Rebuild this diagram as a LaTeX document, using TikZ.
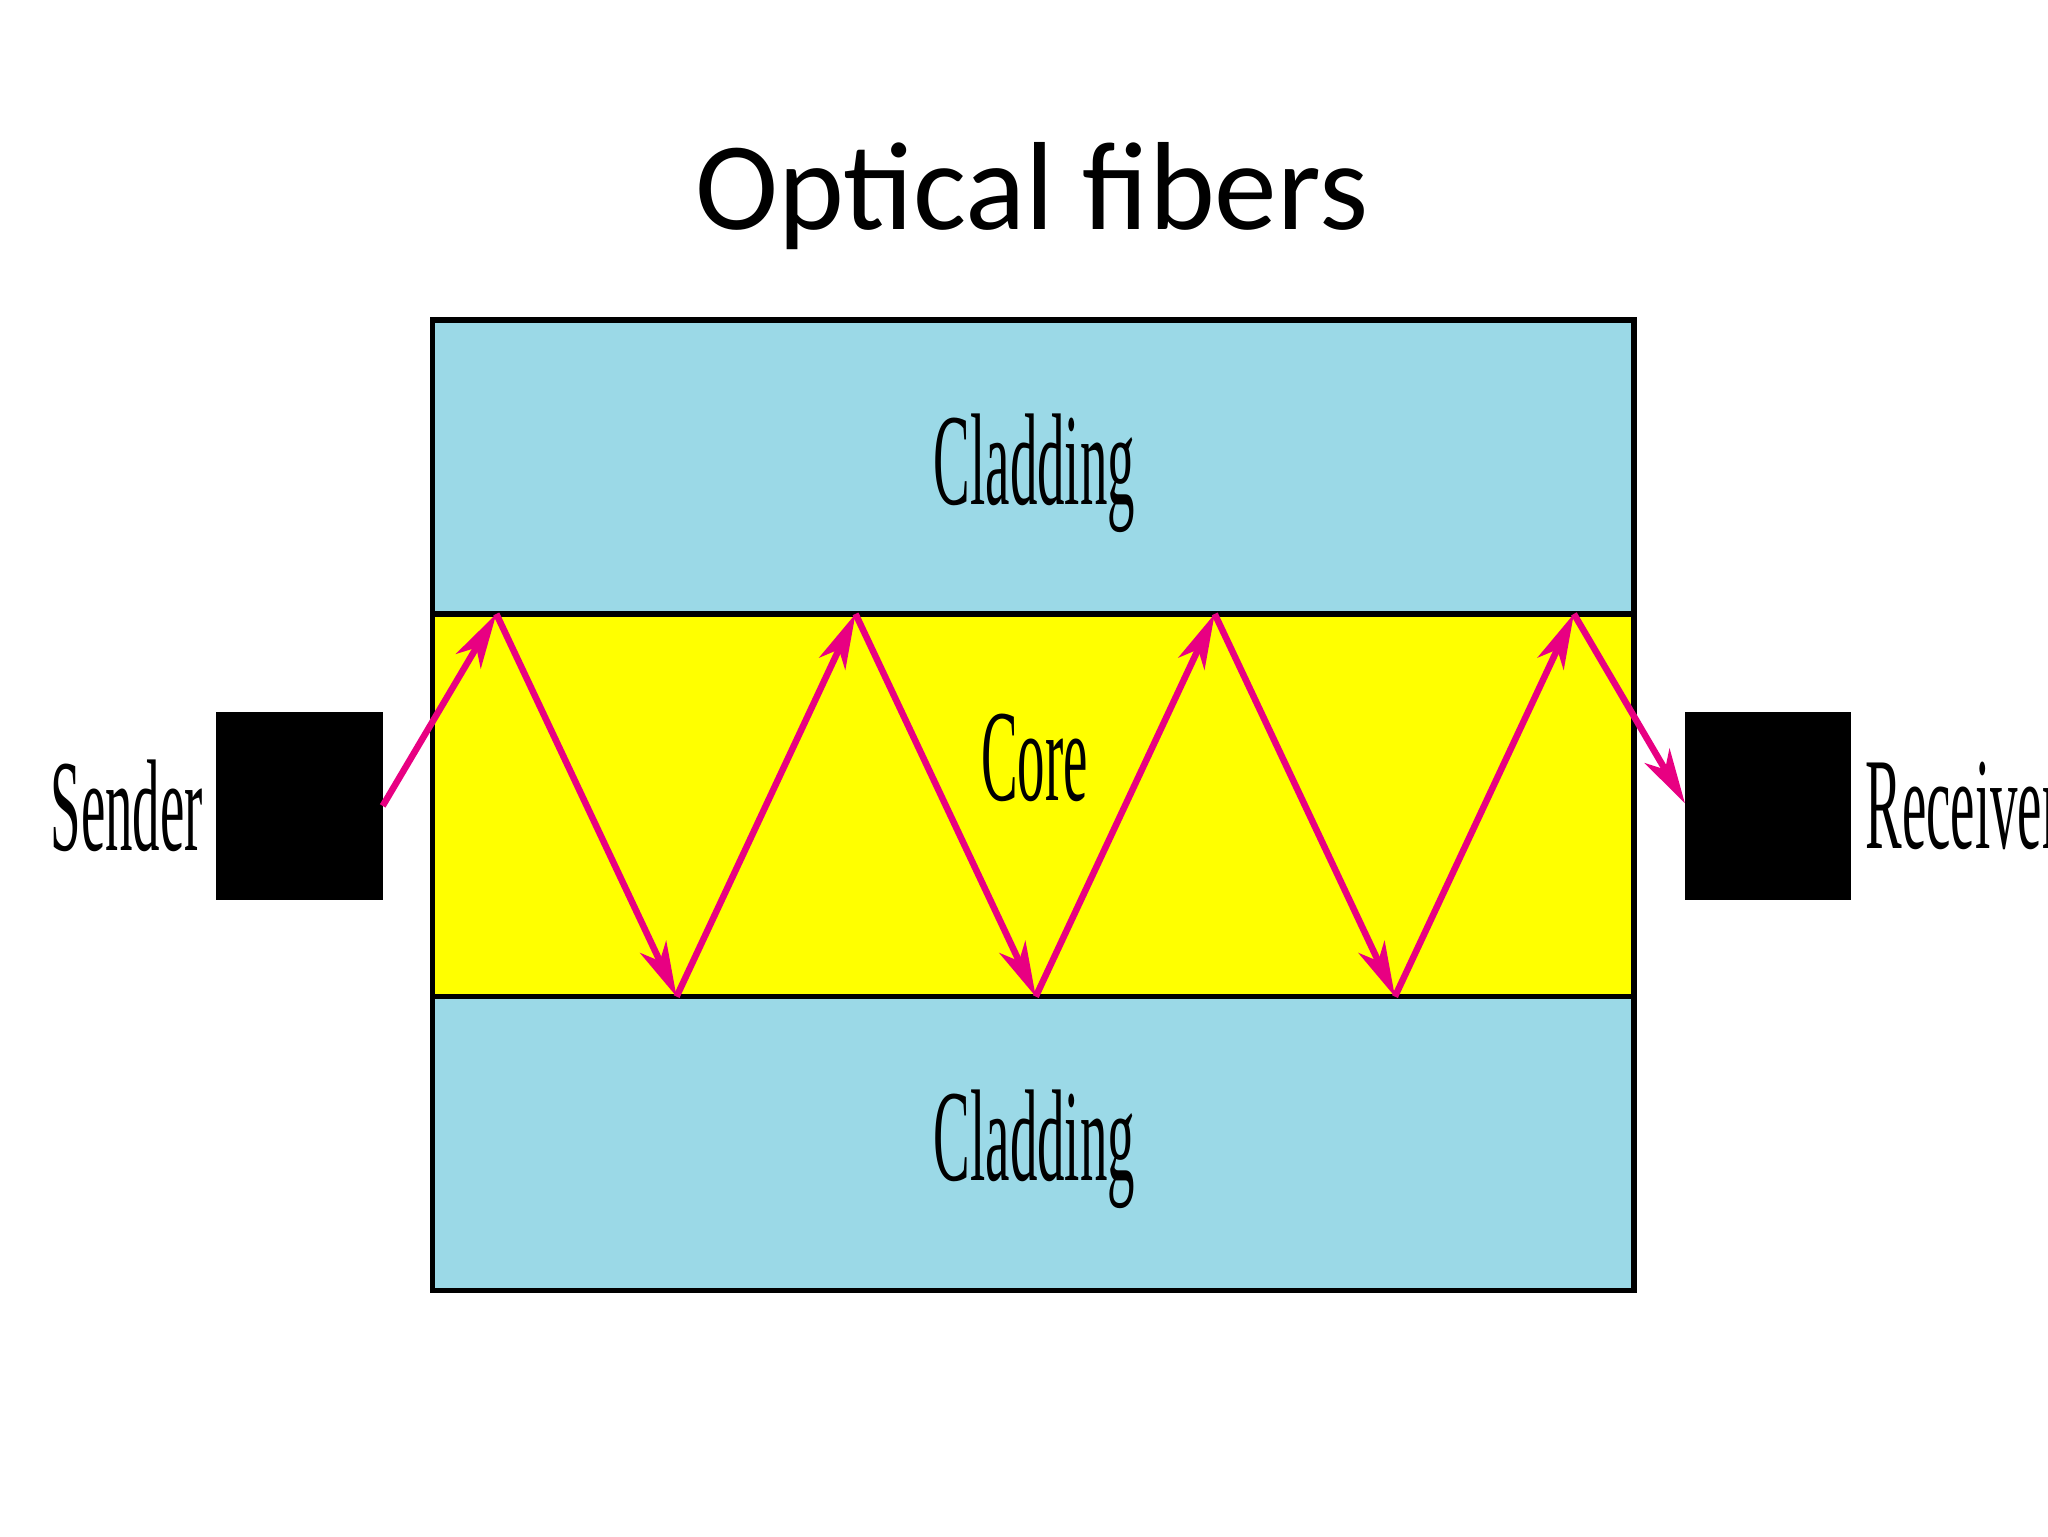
\documentclass[tikz,border=0pt]{standalone}
\usepackage{fontspec}
\setmainfont{Liberation Serif}
\newfontfamily\titlefont{Carlito}
\usetikzlibrary{arrows.meta}
\definecolor{clad}{RGB}{155,217,231}
\definecolor{corey}{RGB}{255,255,0}
\definecolor{ray}{RGB}{232,0,130}
\begin{document}
\begin{tikzpicture}[x=1pt,y=-1pt,
  layer/.style={draw=black,line width=4pt},
  lbl/.style={inner sep=0pt,font=\fontsize{100}{110}\selectfont},
  raystyle/.style={draw=ray,line width=5pt,-{Stealth[length=42pt,width=22pt,inset=12pt]}},
  dev/.style={fill=black,draw=none}]
\useasboundingbox (0,0) rectangle (1568,1176);
\node[inner sep=0pt,font=\titlefont\fontsize{96}{100}\selectfont] (title) at (790,150) {Optical fibers};
\fill[clad] (331,245) rectangle (1251,470);
\fill[corey] (331,470) rectangle (1251,763);
\fill[clad] (331,763) rectangle (1251,988);
\draw[layer] (331,988) -- (331,245) -- (1251,245) -- (1251,988) -- cycle;
\draw[layer] (331,470) -- (1251,470);
\draw[layer] (331,763) -- (1251,763);
\fill[dev] (165,545) rectangle (293,689);
\fill[dev] (1290,545) rectangle (1417,689);
\node[lbl] (c1) at (792,362) {\scalebox{0.42}[1]{Cladding}};
\node[lbl] (core) at (792,580) {\scalebox{0.42}[1]{Core}};
\node[lbl] (c2) at (792,880) {\scalebox{0.42}[1]{Cladding}};
\node[lbl] (snd) at (97,617) {\scalebox{0.42}[1]{Sender}};
\node[lbl,anchor=west] (rcv) at (1428,617) {\scalebox{0.42}[1]{Receiver}};
\coordinate (p0) at (293,617);
\coordinate (p1) at (380,470);
\coordinate (p2) at (518,763);
\coordinate (p3) at (655,470);
\coordinate (p4) at (793,763);
\coordinate (p5) at (930,470);
\coordinate (p6) at (1068,763);
\coordinate (p7) at (1205,470);
\coordinate (p8) at (1290,615);
\foreach \a/\b in {p0/p1,p1/p2,p2/p3,p3/p4,p4/p5,p5/p6,p6/p7,p7/p8}
  \draw[raystyle] (\a) -- (\b);
\end{tikzpicture}
\end{document}
